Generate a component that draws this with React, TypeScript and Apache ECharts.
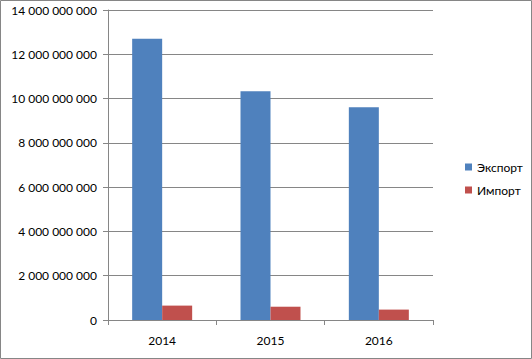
import React, { useEffect, useRef } from "react";
import * as echarts from "echarts";

const years = ["2014", "2015", "2016"];
const exportValues = [12700000000, 10330000000, 9610000000];
const importValues = [650000000, 600000000, 470000000];
const seriesNames = ["Экспорт", "Импорт"];

const fmt = (v: number) =>
  String(Math.round(v)).replace(/\B(?=(\d{3})+(?!\d))/g, " ");

export default function App() {
  const ref = useRef<HTMLDivElement>(null);
  useEffect(() => {
    document.body.style.margin = "0";
    const chart = echarts.init(ref.current!, null, { renderer: "svg" });
    const font = "Lato, 'Open Sans', sans-serif";
    chart.setOption({
      animation: false,
      backgroundColor: "#ffffff",
      textStyle: { fontFamily: font },
      graphic: [
        {
          type: "rect",
          shape: { x: 0.5, y: 0.5, width: 531, height: 358 },
          style: { fill: "none", stroke: "#868686", lineWidth: 1 },
          silent: true,
        },
      ],
      legend: {
        orient: "vertical",
        left: 460,
        top: 156,
        itemWidth: 7,
        itemHeight: 7,
        itemGap: 11,
        icon: "rect",
        textStyle: { fontSize: 12, color: "#000", fontFamily: font },
        data: seriesNames,
      },
      grid: { left: 108, right: 99, top: 10, height: 310, containLabel: false },
      xAxis: {
        type: "category",
        data: years,
        axisLine: { lineStyle: { color: "#868686", width: 1 } },
        axisTick: { show: true, length: 5, inside: false, lineStyle: { color: "#868686" } },
        axisLabel: { color: "#000", fontSize: 12, margin: 14, fontFamily: font },
      },
      yAxis: {
        type: "value",
        min: 0,
        max: 14000000000,
        interval: 2000000000,
        axisLine: { show: true, lineStyle: { color: "#868686", width: 1 } },
        axisTick: { show: true, length: 5, lineStyle: { color: "#868686" } },
        axisLabel: {
          color: "#000",
          fontSize: 12,
          margin: 11,
          fontFamily: font,
          formatter: (v: number) => fmt(v),
        },
        splitLine: { lineStyle: { color: "#868686", width: 1 } },
      },
      series: [
        {
          name: seriesNames[0],
          type: "bar",
          data: exportValues,
          barWidth: 30,
          barGap: "0%",
          itemStyle: { color: "#4F81BD" },
        },
        {
          name: seriesNames[1],
          type: "bar",
          data: importValues,
          barWidth: 30,
          barGap: "0%",
          itemStyle: { color: "#C0504D" },
        },
      ],
    });
    return () => chart.dispose();
  }, []);
  return (
    <div
      ref={ref}
      style={{ position: "absolute", left: 0, top: 0, width: 532, height: 359 }}
    />
  );
}
